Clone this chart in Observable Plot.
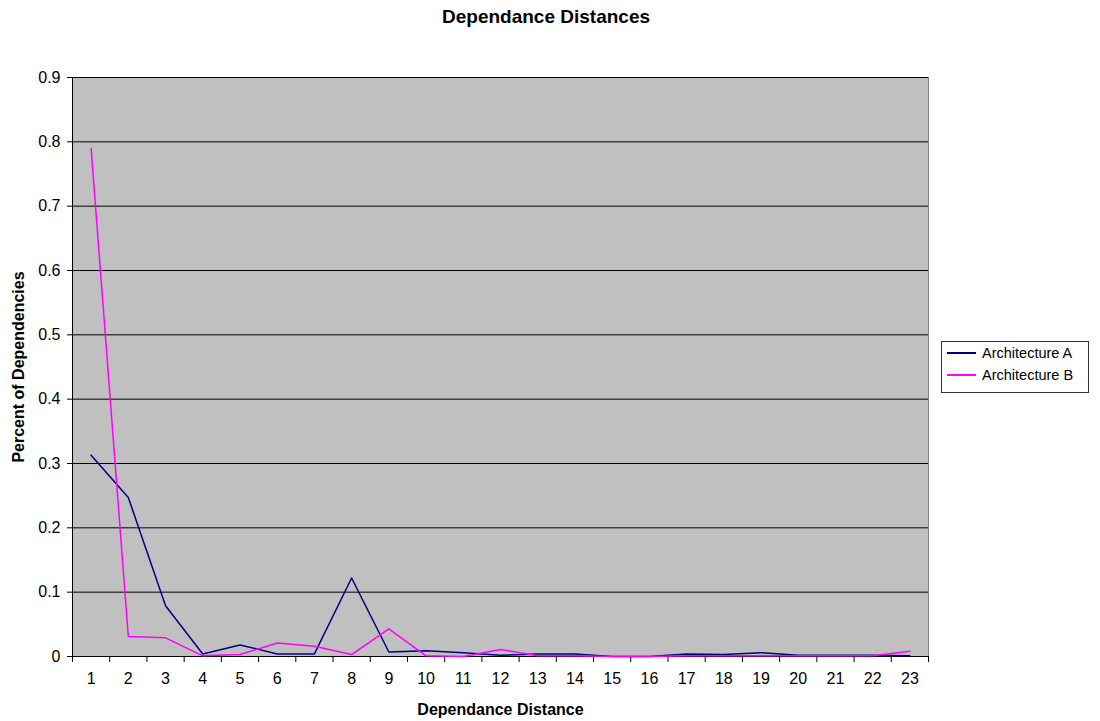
<!DOCTYPE html>
<html>
<head>
<meta charset="utf-8">
<script src="https://cdn.jsdelivr.net/npm/d3@7"></script>
<script src="https://cdn.jsdelivr.net/npm/@observablehq/plot@0.6"></script>
<style>
  body { margin: 0; background: #fff; font-family: "Liberation Sans", Arial, sans-serif; }
  #wrap { position: relative; width: 1100px; height: 721px; }
  #title { position: absolute; left: 0; top: 6px; width: 1092px; text-align: center; font-weight: bold; font-size: 19px; color: #000; }
  #chart { position: absolute; left: 0; top: 0; }
  #legend { position: absolute; left: 941px; top: 341px; width: 148px; height: 52px; border: 1px solid #333; background: #fff; box-sizing: border-box; font-size: 14.5px; }
  .li { position: absolute; left: 5px; display: flex; align-items: center; }
  .li span.sw { display: inline-block; width: 29px; height: 2px; margin-right: 6px; }
  svg [aria-label="y-axis label"], svg [aria-label="x-axis label"] { font-weight: bold; }
</style>
</head>
<body>
<div id="wrap">
  <div id="title">Dependance Distances</div>
  <div id="chart"></div>
  <div id="legend"></div>
</div>
<script>
const distances = [1,2,3,4,5,6,7,8,9,10,11,12,13,14,15,16,17,18,19,20,21,22,23];
const archA = [0.313,0.247,0.079,0.004,0.018,0.004,0.004,0.122,0.007,0.009,0.006,0.002,0.004,0.004,0.0,0.0,0.004,0.003,0.006,0.002,0.002,0.002,0.001];
const archB = [0.790,0.031,0.029,0.001,0.003,0.021,0.016,0.003,0.043,0.001,0.0,0.011,0.001,0.001,0.0,0.0,0.001,0.001,0.001,0.001,0.001,0.001,0.008];
const seriesNames = ["Architecture A", "Architecture B"];
const seriesColors = ["#000080", "#FF00FF"];
const yTicks = [0,0.1,0.2,0.3,0.4,0.5,0.6,0.7,0.8,0.9];
const xBoundaries = d3.range(0, 24).map(i => i + 0.5);

const rows = [];
distances.forEach((d, i) => {
  rows.push({distance: d, value: archA[i], series: seriesNames[0]});
  rows.push({distance: d, value: archB[i], series: seriesNames[1]});
});

const plot = Plot.plot({
  width: 1100,
  height: 721,
  marginLeft: 72,
  marginRight: 172,
  marginTop: 77,
  marginBottom: 65,
  style: { fontSize: "16px", fontFamily: "'Liberation Sans', Arial, sans-serif", color: "#000", background: "transparent" },
  x: { type: "linear", domain: [0.5, 23.5] },
  y: { domain: [0, 0.9] },
  color: { domain: seriesNames, range: seriesColors },
  marks: [
    Plot.frame({ fill: "#C0C0C0", stroke: "#808080" }),
    Plot.ruleY(yTicks.filter(d => d > 0), { stroke: "#000", strokeWidth: 1 }),
    Plot.axisY({ ticks: yTicks, tickSize: 5, tickPadding: 7, tickFormat: d => d3.format("~g")(d),
      label: "Percent of Dependencies", labelAnchor: "center", labelArrow: "none", labelOffset: 60 }),
    Plot.axisX({ ticks: xBoundaries, tickSize: 6, tickFormat: () => "", label: null }),
    Plot.axisX({ ticks: distances, tickSize: 0, tickPadding: 16, tickFormat: d => String(d),
      label: "Dependance Distance", labelAnchor: "center", labelArrow: "none", labelOffset: 58 }),
    Plot.ruleX([0.5], { stroke: "#000" }),
    Plot.ruleY([0], { stroke: "#000" }),
    Plot.line(rows, { x: "distance", y: "value", z: "series", stroke: "series", strokeWidth: 1.5 })
  ]
});
document.getElementById("chart").appendChild(plot);

const legend = document.getElementById("legend");
seriesNames.forEach((name, i) => {
  const item = document.createElement("div");
  item.className = "li";
  item.style.top = (i === 0 ? 3 : 25) + "px";
  item.innerHTML = `<span class="sw" style="background:${seriesColors[i]}"></span><span>${name}</span>`;
  legend.appendChild(item);
});
</script>
</body>
</html>
